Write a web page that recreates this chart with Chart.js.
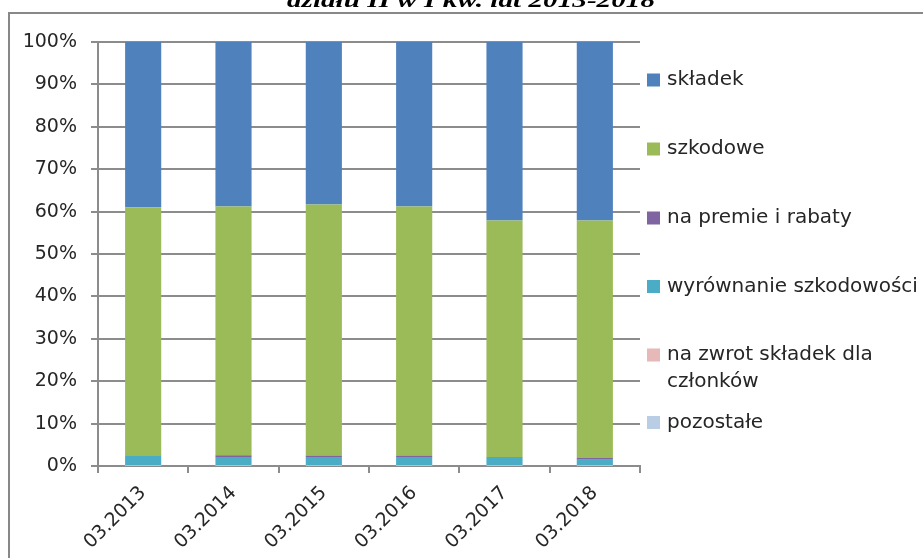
<!DOCTYPE html>
<html lang="pl">
<head>
<meta charset="utf-8">
<title>Struktura - dział II</title>
<script src="https://cdn.jsdelivr.net/npm/chart.js@4.4.1/dist/chart.umd.min.js"></script>
<style>
    html, body { margin: 0; padding: 0; background: #ffffff; }
    canvas { display: block; }
</style>
</head>
<body>
<canvas id="wykres" width="923" height="558"></canvas>
<script>
// dane (udział w %)
const categories = ['03.2013', '03.2014', '03.2015', '03.2016', '03.2017', '03.2018'];
const pozostale = [0.05, 0.05, 0.05, 0.05, 0.05, 0.05];
const zwrotSkladek = [0.05, 0.05, 0.05, 0.05, 0.05, 0.05];
const wyrownanie = [2.4, 2.0, 2.0, 2.0, 1.8, 1.4];
const premie = [0.1, 0.45, 0.4, 0.4, 0.15, 0.4];
const szkodowe = [58.4, 58.65, 59.2, 58.7, 55.85, 56.0];
const skladek = [39.0, 38.8, 38.3, 38.8, 42.1, 42.1];
const yTicks = [0, 10, 20, 30, 40, 50, 60, 70, 80, 90, 100];
const tytul = 'działu II w I kw. lat 2013-2018';

const gridColor = '#8c8c8c';
const textColor = '#262626';
const font = 'DejaVu Sans';

// legenda rysowana ręcznie (jak w Excelu, po prawej stronie)
const legendY = [80, 149, 218, 286.5, 355, 422.5];

const ramkaPlugin = {
    id: 'ramka',
    beforeDraw(chart) {
        const ctx = chart.ctx;
        ctx.save();
        ctx.fillStyle = '#ffffff';
        ctx.fillRect(0, 0, chart.width, chart.height);
        ctx.strokeStyle = '#888888';
        ctx.lineWidth = 2;
        ctx.strokeRect(9, 13, 1000, 1000);
        // tytuł (ucięty u góry)
        ctx.fillStyle = '#000000';
        ctx.font = 'italic bold 22px "Liberation Serif"';
        ctx.textBaseline = 'alphabetic';
        ctx.textAlign = 'left';
        const w = ctx.measureText(tytul).width;
        const sx = 368 / w;
        ctx.translate(287, 7);
        ctx.scale(sx, 1);
        ctx.fillText(tytul, 0, 0);
        ctx.restore();
    },
    afterDraw(chart) {
        const ctx = chart.ctx;
        ctx.save();
        ctx.font = '20px "' + font + '"';
        ctx.textBaseline = 'middle';
        ctx.textAlign = 'left';
        const items = chart.data.datasets.slice().reverse();
        items.forEach((ds, i) => {
            const y = legendY[i];
            ctx.fillStyle = ds.backgroundColor;
            ctx.fillRect(647, y - 6.5, 13, 13);
            ctx.fillStyle = textColor;
            // zawijanie długich etykiet
            const words = ds.label.split(' ');
            const lines = [];
            let line = '';
            words.forEach(word => {
                const test = line ? line + ' ' + word : word;
                if (ctx.measureText(test).width > 252 && line) {
                    lines.push(line);
                    line = word;
                } else {
                    line = test;
                }
            });
            lines.push(line);
            lines.forEach((l, j) => ctx.fillText(l, 667, y + j * 27));
        });
        ctx.restore();
    }
};

const data = {
    labels: categories,
    datasets: [
        { label: 'pozostałe', data: pozostale, backgroundColor: '#b9cde5' },
        { label: 'na zwrot składek dla członków', data: zwrotSkladek, backgroundColor: '#e6b9b8' },
        { label: 'wyrównanie szkodowości', data: wyrownanie, backgroundColor: '#4bacc6' },
        { label: 'na premie i rabaty', data: premie, backgroundColor: '#8064a2' },
        { label: 'szkodowe', data: szkodowe, backgroundColor: '#9bbb59' },
        { label: 'składek', data: skladek, backgroundColor: '#4f81bd' }
    ]
};

const config = {
    type: 'bar',
    data: data,
    options: {
        responsive: false,
        animation: false,
        devicePixelRatio: 1,
        layout: {
            padding: { left: 0, top: 42, right: 283, bottom: 0 }
        },
        datasets: {
            bar: {
                categoryPercentage: 1.0,
                barPercentage: 0.4,
                borderWidth: 0
            }
        },
        plugins: {
            legend: { display: false },
            tooltip: { enabled: false }
        },
        scales: {
            x: {
                stacked: true,
                afterFit: scale => { scale.height = 92; },
                grid: {
                    drawOnChartArea: false,
                    drawTicks: true,
                    tickLength: 7,
                    color: gridColor,
                    lineWidth: 2
                },
                border: { color: gridColor, width: 2 },
                ticks: {
                    color: textColor,
                    font: { family: font, size: 19 },
                    minRotation: 45,
                    maxRotation: 45,
                    padding: 9,
                    autoSkip: false
                }
            },
            y: {
                stacked: true,
                min: 0,
                max: 100,
                afterFit: scale => { scale.width = 98; },
                afterBuildTicks: scale => {
                    scale.ticks = yTicks.map(v => ({ value: v }));
                },
                grid: {
                    drawTicks: true,
                    tickLength: 7,
                    color: gridColor,
                    lineWidth: 2
                },
                border: { color: gridColor, width: 2 },
                ticks: {
                    color: textColor,
                    font: { family: font, size: 19 },
                    padding: 14,
                    callback: value => value + '%'
                }
            }
        }
    },
    plugins: [ramkaPlugin]
};

const wykres = new Chart(document.getElementById('wykres'), config);
</script>
</body>
</html>
